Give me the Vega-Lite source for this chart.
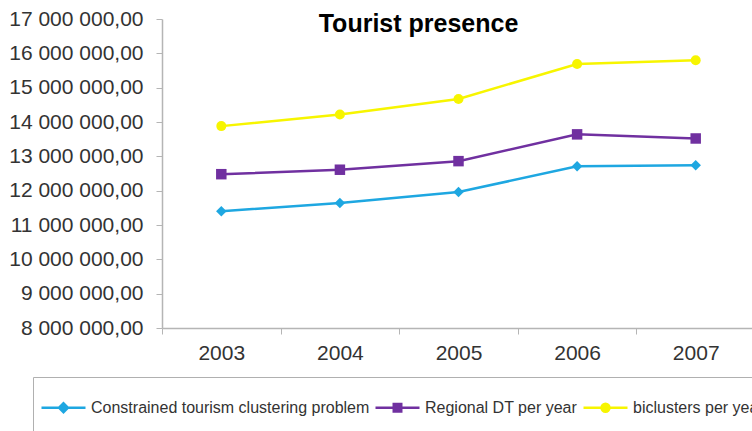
{
  "$schema": "https://vega.github.io/schema/vega-lite/v6.json",
  "autosize": "none",
  "padding": {"left": 162, "top": 19, "right": 0, "bottom": 112},
  "width": 593,
  "height": 309,
  "background": "white",
  "config": {
    "font": "Liberation Sans",
    "view": {"stroke": null},
    "locale": {"number": {"decimal": ",", "thousands": " ", "grouping": [3], "currency": ["", ""]}}
  },
  "title": {
    "text": "Tourist presence",
    "font": "Liberation Sans",
    "fontSize": 25,
    "fontWeight": "bold",
    "color": "#000000",
    "anchor": "middle",
    "dx": -40,
    "offset": -29
  },
  "data": {
    "values": [
      {"year": "2003", "series": "Constrained tourism clustering problem", "value": 11400000},
      {"year": "2004", "series": "Constrained tourism clustering problem", "value": 11640000},
      {"year": "2005", "series": "Constrained tourism clustering problem", "value": 11960000},
      {"year": "2006", "series": "Constrained tourism clustering problem", "value": 12710000},
      {"year": "2007", "series": "Constrained tourism clustering problem", "value": 12740000},
      {"year": "2003", "series": "Regional DT per year", "value": 12480000},
      {"year": "2004", "series": "Regional DT per year", "value": 12610000},
      {"year": "2005", "series": "Regional DT per year", "value": 12860000},
      {"year": "2006", "series": "Regional DT per year", "value": 13640000},
      {"year": "2007", "series": "Regional DT per year", "value": 13520000},
      {"year": "2003", "series": "biclusters per year", "value": 13880000},
      {"year": "2004", "series": "biclusters per year", "value": 14220000},
      {"year": "2005", "series": "biclusters per year", "value": 14670000},
      {"year": "2006", "series": "biclusters per year", "value": 15690000},
      {"year": "2007", "series": "biclusters per year", "value": 15800000}
    ]
  },
  "encoding": {
    "x": {
      "field": "year",
      "type": "ordinal",
      "scale": {"type": "band", "paddingInner": 0, "paddingOuter": 0},
      "axis": {
        "title": null,
        "labelAngle": 0,
        "labelFontSize": 21,
        "labelColor": "#333333",
        "labelPadding": 8,
        "tickBand": "extent",
        "tickSize": 6,
        "tickColor": "#b5b5b5",
        "domainColor": "#b5b5b5",
        "domainWidth": 1.5,
        "grid": false
      }
    },
    "y": {
      "field": "value",
      "type": "quantitative",
      "scale": {"domain": [8000000, 17000000], "nice": false, "zero": false},
      "axis": {
        "title": null,
        "format": ",.2f",
        "values": [8000000, 9000000, 10000000, 11000000, 12000000, 13000000, 14000000, 15000000, 16000000, 17000000],
        "labelFontSize": 21,
        "labelColor": "#333333",
        "labelPadding": 13,
        "tickSize": 6,
        "tickColor": "#b5b5b5",
        "domainColor": "#b5b5b5",
        "domainWidth": 1.5,
        "grid": false
      }
    },
    "color": {
      "field": "series",
      "type": "nominal",
      "scale": {
        "domain": ["Constrained tourism clustering problem", "Regional DT per year", "biclusters per year"],
        "range": ["#1ea7e1", "#7030a0", "#f7f500"]
      },
      "legend": {
        "title": null,
        "orient": "none",
        "legendX": -129,
        "legendY": 358,
        "direction": "horizontal",
        "columns": 3,
        "padding": 7,
        "strokeColor": "#b0b0b0",
        "fillColor": "white",
        "symbolSize": 1936,
        "symbolStrokeWidth": 2.5,
        "labelFontSize": 16,
        "labelColor": "#333333",
        "labelOffset": 4,
        "labelLimit": 500,
        "columnPadding": 0,
        "encode": {
          "symbols": {
            "update": {
              "shape": {"signal": "datum.value == 'Constrained tourism clustering problem' ? 'M0,-1L0,-1M0,1L0,1M-1,0L1,0M-0.2,0L0,-0.2L0.2,0L0,0.2Z' : datum.value == 'Regional DT per year' ? 'M0,-1L0,-1M0,1L0,1M-1,0L1,0M-0.17,-0.17L0.17,-0.17L0.17,0.17L-0.17,0.17Z' : 'M0,-1L0,-1M0,1L0,1M-1,0L1,0M-0.18,0A0.18,0.18,0,1,1,0.18,0A0.18,0.18,0,1,1,-0.18,0Z'"},
              "fill": {"scale": "color", "field": "value"},
              "stroke": {"scale": "color", "field": "value"},
              "strokeWidth": {"value": 2.5},
              "strokeCap": {"value": "butt"},
              "opacity": {"value": 1}
            }
          }
        }
      }
    }
  },
  "layer": [
    {
      "mark": {"type": "line", "strokeWidth": 2.5}
    },
    {
      "transform": [{"filter": "datum.series == 'Constrained tourism clustering problem'"}],
      "mark": {"type": "point", "filled": true, "opacity": 1, "shape": "diamond", "size": 110}
    },
    {
      "transform": [{"filter": "datum.series == 'Regional DT per year'"}],
      "mark": {"type": "point", "filled": true, "opacity": 1, "shape": "square", "size": 110}
    },
    {
      "transform": [{"filter": "datum.series == 'biclusters per year'"}],
      "mark": {"type": "point", "filled": true, "opacity": 1, "shape": "circle", "size": 100}
    }
  ]
}
